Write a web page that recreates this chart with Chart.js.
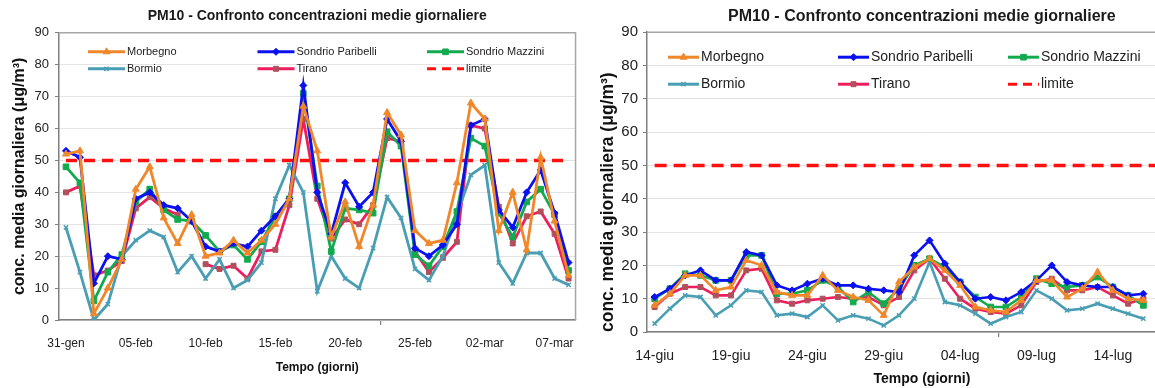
<!DOCTYPE html>
<html><head><meta charset="utf-8">
<script src="https://cdn.jsdelivr.net/npm/chart.js@4.4.1/dist/chart.umd.min.js"></script>
<style>
html,body{margin:0;padding:0;background:#fff;overflow:hidden;width:1155px;height:388px;}
canvas{position:absolute;top:0;}
#c1{left:0}
#c2{left:580px}
</style></head><body>
<canvas id="c1" width="585" height="388"></canvas>
<canvas id="c2" width="640" height="388"></canvas>
<script>
// ---------- DATA ----------
const TITLE = 'PM10 - Confronto concentrazioni medie giornaliere';
const X_TITLE = 'Tempo (giorni)';
const Y_TITLE = 'conc. media giornaliera (\u03bcg/m\u00b3)';
const SERIES_NAMES = ['Morbegno','Sondrio Paribelli','Sondrio Mazzini','Bormio','Tirano','limite'];

// Winter period (left chart)
const winterDays = ['31-gen','01-feb','02-feb','03-feb','04-feb','05-feb','06-feb','07-feb','08-feb','09-feb',
  '10-feb','11-feb','12-feb','13-feb','14-feb','15-feb','16-feb','17-feb','18-feb','19-feb',
  '20-feb','21-feb','22-feb','23-feb','24-feb','25-feb','26-feb','27-feb','28-feb','01-mar',
  '02-mar','03-mar','04-mar','05-mar','06-mar','07-mar','08-mar'];
const winterMorbegno  = [52,53,2,10,19,41,48,32,24,33,20,21,25,21,25,30,38,67,53,26,37,23,36,65,58,28,24,25,43,68,63,28,40,22,51,31,14];
const winterParibelli = [53,51,11.5,20,19,38,40,36,35,31,23,21.5,24,23,28,32.5,38,73.5,40,27,43,35.5,40,63,56,22.5,20,23.5,30,61,63,34.5,29,40,47,33.5,18];
const winterMazzini   = [48,43,6,15,20.5,37,41,34.5,31.5,31,26.5,21.5,23.5,19,24.5,32.5,38,71,42,21.5,35,34.5,33.5,59,54.5,20.5,17,23,34,57,54.5,33.5,26,37,41,33,15.5];
const winterBormio    = [29,15,0,5,20,25,28,26,15,20,13,19,10,12.5,18,38,48.5,40,9,20,13,10,22.5,38.5,32,16,12.5,20,33,45.5,48.5,18,11.5,21,21,13,11];
const winterTirano    = [40,42,14,15.5,18.5,35,38.5,35,33,null,17.5,16,17,13,21.5,22,36,63,38,25.5,31.5,30,36,57,56,21.5,15,19.5,24.5,61,60,35.5,24,32.5,34,27,13];
const winterLimite    = [50,50,50,50,50,50,50,50,50,50,50,50,50,50,50,50,50,50,50,50,50,50,50,50,50,50,50,50,50,50,50,50,50,50,50,50,50];

// Summer period (right chart; the last days fall outside the picture)
const summerDays = ['14-giu','15-giu','16-giu','17-giu','18-giu','19-giu','20-giu','21-giu','22-giu','23-giu',
  '24-giu','25-giu','26-giu','27-giu','28-giu','29-giu','30-giu','01-lug','02-lug','03-lug',
  '04-lug','05-lug','06-lug','07-lug','08-lug','09-lug','10-lug','11-lug','12-lug','13-lug',
  '14-lug','15-lug','16-lug','17-lug','18-lug','19-lug'];
const summerMorbegno  = [8,11.5,17,17,12.5,13.5,21.5,20,12,11,11,17,12.5,10.5,9.5,5,15,19.5,22,18.5,14,7.5,6.5,6,9.5,15.5,15.5,10.5,13,18,12.5,10,9.5,null,null,null];
const summerParibelli = [10.5,13,17,18.5,15.5,15.5,24,23,14,12.5,14.5,16,14,14,13,12.5,12,23,27.5,20.5,15,10,10.5,9.5,12,15.5,20,15,14,13.5,13.5,11,11.5,null,null,null];
const summerMazzini   = [10,13,17.5,17,15.5,15.5,23,23,11.5,11.5,12.5,15.5,13.5,9,12,8.5,13,20,22,19.5,15,10.5,7.5,7.5,10.5,16,14.5,13.5,14,16.5,13.5,11,8,null,null,null];
const summerBormio    = [2.5,7,11,10.5,5,8,12.5,12,5,5.5,4.5,8,3.5,5,4,2,5,10,21,9,8,5.5,2.5,4.5,6,12.5,10,6.5,7,8.5,7,5.5,4,null,null,null];
const summerTirano    = [7.5,11.5,13.5,13.5,11,11,18.5,19,9.5,8.5,9.5,10,10.5,10,10.5,8,10.5,18.5,22,16,10,7,6,5.5,8,15,16,12.5,12.5,13.5,11,8.5,10,null,null,null];
const summerLimite    = [50,50,50,50,50,50,50,50,50,50,50,50,50,50,50,50,50,50,50,50,50,50,50,50,50,50,50,50,50,50,50,50,50,50,50,50];

const Y_MIN = 0, Y_MAX = 90, Y_STEP = 10, LABEL_EVERY = 5;

// ---------- STYLES ----------
const COLORS = {
  morbegno:'#F0872A', paribelli:'#0A10EE', mazzini:'#12AA4E', bormio:'#4A9EB4', tirano:'#EE1E5E', tiranoPt:'#B0505C', limite:'#FF1010'
};

function makeDatasets(vals, lw, limDash, limW) {
  const [m, p, z, b, t, l] = vals;
  return [
    {label:SERIES_NAMES[0], data:m, borderColor:COLORS.morbegno, backgroundColor:COLORS.morbegno, pointBackgroundColor:COLORS.morbegno, pointBorderColor:COLORS.morbegno, borderWidth:lw, pointStyle:'triangle', pointRadius:4, pointBorderWidth:1},
    {label:SERIES_NAMES[1], data:p, borderColor:COLORS.paribelli, backgroundColor:COLORS.paribelli, pointBackgroundColor:COLORS.paribelli, pointBorderColor:COLORS.paribelli, borderWidth:lw, pointStyle:'rectRot', pointRadius:3.5, pointBorderWidth:1},
    {label:SERIES_NAMES[2], data:z, borderColor:COLORS.mazzini, backgroundColor:COLORS.mazzini, pointBackgroundColor:COLORS.mazzini, pointBorderColor:COLORS.mazzini, borderWidth:lw, pointStyle:'rect', pointRadius:4, pointBorderWidth:1},
    {label:SERIES_NAMES[3], data:b, borderColor:COLORS.bormio, backgroundColor:COLORS.bormio, pointBackgroundColor:COLORS.bormio, pointBorderColor:COLORS.bormio, borderWidth:lw, pointStyle:'crossRot', pointRadius:3, pointBorderWidth:1.5},
    {label:SERIES_NAMES[4], data:t, borderColor:COLORS.tirano, backgroundColor:COLORS.tiranoPt, pointBackgroundColor:COLORS.tiranoPt, pointBorderColor:COLORS.tiranoPt, borderWidth:lw, pointStyle:'rect', pointRadius:3.5, pointBorderWidth:1},
    {label:SERIES_NAMES[5], data:l, borderColor:COLORS.limite, backgroundColor:COLORS.limite, borderWidth:limW, borderDash:limDash, pointRadius:0, pointHoverRadius:0}
  ];
}

// legend laid out in a fixed 3-column grid inside the plot area
const gridLegend = {
  id:'gridLegend',
  afterDraw(chart, args, o) {
    const {ctx, chartArea} = chart;
    const H = Chart.helpers;
    ctx.save();
    ctx.font = o.font;
    ctx.textBaseline = 'middle';
    ctx.textAlign = 'left';
    chart.data.datasets.forEach((ds, i) => {
      const col = i % 3, row = Math.floor(i / 3);
      const x = chartArea.left + o.x0 + col * o.colW;
      const y = chartArea.top + o.rows[row];
      ctx.save();
      ctx.strokeStyle = ds.borderColor;
      ctx.lineWidth = o.lw;
      ctx.setLineDash(ds.borderDash ? o.dash : []);
      ctx.beginPath(); ctx.moveTo(x, y); ctx.lineTo(x + o.sample, y); ctx.stroke();
      ctx.restore();
      if (ds.pointRadius > 0 && H && H.drawPoint) {
        ctx.save();
        ctx.fillStyle = ds.pointBackgroundColor; ctx.strokeStyle = ds.pointBorderColor;
        ctx.lineWidth = ds.pointBorderWidth;
        H.drawPoint(ctx, {pointStyle:ds.pointStyle, radius:ds.pointRadius*o.ptScale, borderWidth:ds.pointBorderWidth, rotation:0}, x + o.sample/2, y);
        ctx.restore();
      }
      ctx.fillStyle = '#222';
      ctx.fillText(ds.label, x + o.sample + o.gap, y);
    });
    ctx.restore();
  }
};

// plot-area frame (top and right edges)
const plotFrame = {
  id:'plotFrame',
  beforeDatasetsDraw(chart, args, o) {
    const {ctx, chartArea:a} = chart;
    ctx.save();
    ctx.strokeStyle = o.color; ctx.lineWidth = o.width;
    ctx.beginPath();
    ctx.moveTo(a.left, a.top); ctx.lineTo(a.right, a.top); ctx.lineTo(a.right, a.bottom);
    ctx.stroke();
    ctx.restore();
  }
};

function buildConfig(p) {
  return {
    type:'line',
    data:{labels:p.labels, datasets:makeDatasets(p.values, p.lw, p.limDash, p.limW)},
    plugins:[gridLegend, plotFrame],
    options:{
      responsive:false, animation:false, devicePixelRatio:1,
      elements:{line:{tension:0, fill:false}},
      layout:{padding:{left:0, right:p.padRight, top:0, bottom:0}},
      plugins:{
        legend:{display:false}, tooltip:{enabled:false},
        title:{display:true, fullSize:false, text:TITLE, color:'#1a1a1a', font:{family:p.family, size:p.titleSize, weight:'bold'}, padding:p.titlePad},
        gridLegend:p.legend,
        plotFrame:{color:'#a6a6a6', width:1.5}
      },
      scales:{
        x:{
          type:'category', offset:true,
          grid:{offset:true, drawOnChartArea:false, drawTicks:true, tickLength:5, lineWidth:1.2,
                color:(c)=> (c.index % LABEL_EVERY === 0) ? '#7f7f7f' : 'rgba(0,0,0,0)'},
          border:{color:'#7f7f7f', width:1.5},
          ticks:{autoSkip:false, maxRotation:0, minRotation:0, padding:p.xTickPad, color:'#222',
                 font:{family:p.family, size:p.xTickSize},
                 callback:function(v, i){ return i % LABEL_EVERY === 0 ? this.getLabelForValue(v) : null; }},
          title:{display:true, text:X_TITLE, color:'#111', font:{family:p.family, size:p.xTitleSize, weight:'bold'}, padding:{top:0, bottom:p.xTitlePadB}},
          afterFit:(s)=>{ s.height = p.xHeight; }
        },
        y:{
          min:Y_MIN, max:Y_MAX,
          ticks:{stepSize:Y_STEP, padding:p.yTickPad, color:'#222', font:{family:p.family, size:p.yTickSize}},
          grid:{color:'#e3e3e3', lineWidth:1, tickLength:4, tickColor:'#7f7f7f'},
          border:{color:'#7f7f7f', width:1.5},
          title:{display:true, align:p.yTitleAlign, text:Y_TITLE, color:'#111', font:{family:p.family, size:p.yTitleSize, weight:'bold'}, padding:{top:p.yTitlePadT, bottom:0}},
          afterFit:(s)=>{ s.width = p.yWidth; }
        }
      }
    }
  };
}

const REG = "'Liberation Sans',Arial,sans-serif";

new Chart(document.getElementById('c1'), buildConfig({
  labels:winterDays,
  values:[winterMorbegno, winterParibelli, winterMazzini, winterBormio, winterTirano, winterLimite],
  lw:2.8, limDash:[11,7], limW:3.5,
  family:REG, titleSize:14, titlePad:{top:8, bottom:8},
  padRight:9, xTickPad:11, xTickSize:12, xTitleSize:12, xTitlePadB:13, xHeight:68,
  yTickPad:6, yTickSize:13, yTitleSize:16, yTitlePadT:9.5, yWidth:59, yTitleAlign:'center',
  legend:{font:"11px "+REG, x0:29, colW:169.5, rows:[19,36], sample:37, gap:2, lw:3, dash:[9,6], ptScale:1}
}));

new Chart(document.getElementById('c2'), buildConfig({
  labels:summerDays,
  values:[summerMorbegno, summerParibelli, summerMazzini, summerBormio, summerTirano, summerLimite],
  lw:2.6, limDash:[12,7], limW:3.5,
  family:REG, titleSize:16, titlePad:{top:7, bottom:6},
  padRight:11, xTickPad:11, xTickSize:14, xTitleSize:14, xTitlePadB:0, xHeight:56,
  yTickPad:5, yTickSize:15, yTitleSize:17.5, yTitlePadT:18, yWidth:67, yTitleAlign:'start',
  legend:{font:"14px "+REG, x0:21, colW:170, rows:[25,52], sample:31, gap:2, lw:3, dash:[9,6], ptScale:1}
}));
</script>
</body></html>
